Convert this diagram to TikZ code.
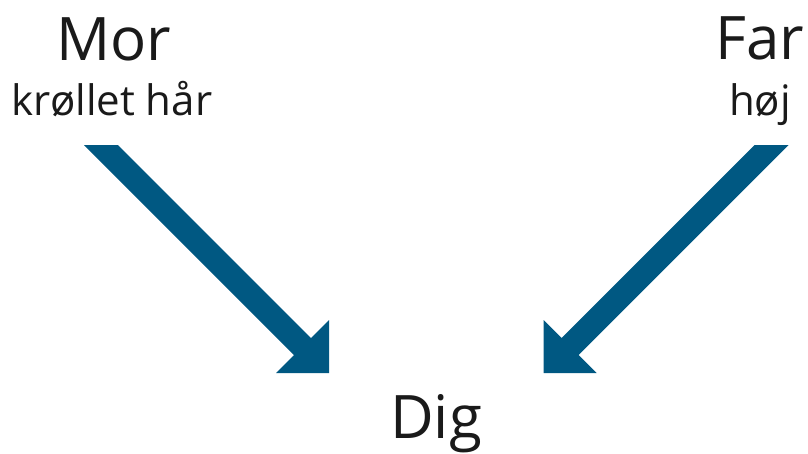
\documentclass[tikz,border=0pt]{standalone}
\usepackage{fontspec}
\setmainfont{Open Sans}
\definecolor{arrowblue}{RGB}{0,88,130}
\definecolor{txt}{RGB}{26,26,26}
\begin{document}
\begin{tikzpicture}[x=1pt,y=-1pt,
  big/.style={anchor=base,inner sep=0pt,text=txt,font=\fontsize{60}{60}\selectfont},
  small/.style={anchor=base,inner sep=0pt,text=txt,font=\fontsize{42}{42}\selectfont},
  fatarrow/.style={fill=arrowblue,draw=none}]
\useasboundingbox (0,0) rectangle (808,453);
\node[big] (mor) at (114,60) {Mor};
\node[small] (morx) at (112,115) {krøllet hår};
\node[big] (far) at (760,59) {Far};
\node[small] (farx) at (760,115) {høj};
\node[big] (dig) at (436,438) {Dig};
% left arrow
\coordinate (la1) at (84,145);
\coordinate (la2) at (118,145);
\coordinate (lt) at (329,373);
\fill[fatarrow] (la1) -- (la2) -- (311,338) -- (329,320) -- (lt) -- (276,373) -- (294,355) -- cycle;
% right arrow
\coordinate (ra1) at (788.5,145);
\coordinate (ra2) at (754.5,145);
\coordinate (rt) at (543.5,373);
\fill[fatarrow] (ra1) -- (ra2) -- (561.5,338) -- (543.5,320) -- (rt) -- (596.5,373) -- (578.5,355) -- cycle;
\end{tikzpicture}
\end{document}
